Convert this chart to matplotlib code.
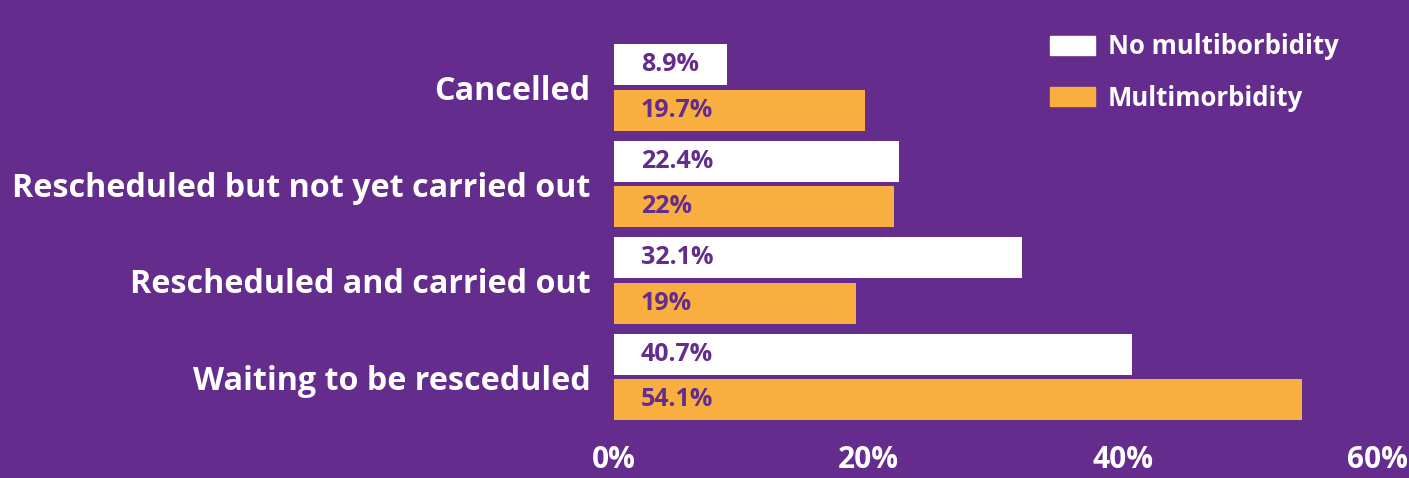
import matplotlib.pyplot as plt
from matplotlib.patches import Patch

# data
categories = ['Cancelled', 'Rescheduled but not yet carried out',
              'Rescheduled and carried out', 'Waiting to be resceduled']
no_multi = [8.9, 22.4, 32.1, 40.7]
multi = [19.7, 22.0, 19.0, 54.1]
no_multi_labels = ['8.9%', '22.4%', '32.1%', '40.7%']
multi_labels = ['19.7%', '22%', '19%', '54.1%']
xticks = [0, 20, 40, 60]
xtick_labels = ['0%', '20%', '40%', '60%']

purple = '#632C8D'
orange = '#F9AE40'
white = '#FFFFFF'
plt.rcParams['font.family'] = ['Open Sans', 'DejaVu Sans']

W, H = 1409, 478
fig = plt.figure(figsize=(W / 100, H / 100), dpi=100, facecolor=purple)
# axes: x from 614px to 1377px, y from 0px to 430px
ax = fig.add_axes([614 / W, 1 - 430 / H, (1377 - 614) / W, 430 / H])
ax.set_facecolor(purple)

y = list(range(len(categories)))
h = 0.425
off = 0.238
ax.barh([v - off for v in y], no_multi, height=h, color=white)
ax.barh([v + off for v in y], multi, height=h, color=orange)

for i in y:
    ax.text(2.1, i - off, no_multi_labels[i], color=purple, fontsize=18,
            fontweight='bold', va='center', ha='left')
    ax.text(2.1, i + off, multi_labels[i], color=purple, fontsize=18,
            fontweight='bold', va='center', ha='left')

ax.set_xlim(0, 60)
ax.set_ylim(3.549, -0.907)
ax.set_xticks(xticks)
ax.set_xticklabels(xtick_labels, color=white, fontsize=21.5, fontweight='bold')
ax.set_yticks(y)
ax.set_yticklabels(categories, color=white, fontsize=23.2, fontweight='bold')
ax.tick_params(axis='both', length=0)
ax.tick_params(axis='x', pad=11)
ax.tick_params(axis='y', pad=17)
for s in ax.spines.values():
    s.set_visible(False)

handles = [Patch(color=white), Patch(color=orange)]
fig.legend(handles, ['No multiborbidity', 'Multimorbidity'],
           loc='upper left', bbox_to_anchor=(1027 / W, 1 - 10 / H),
           frameon=False, handlelength=1.75, handleheight=0.78,
           labelspacing=0.95, handletextpad=0.5,
           prop={'family': 'Open Sans', 'weight': 'bold', 'size': 18.5}, labelcolor=white)

fig.savefig('out.png', dpi=100, facecolor=purple)
